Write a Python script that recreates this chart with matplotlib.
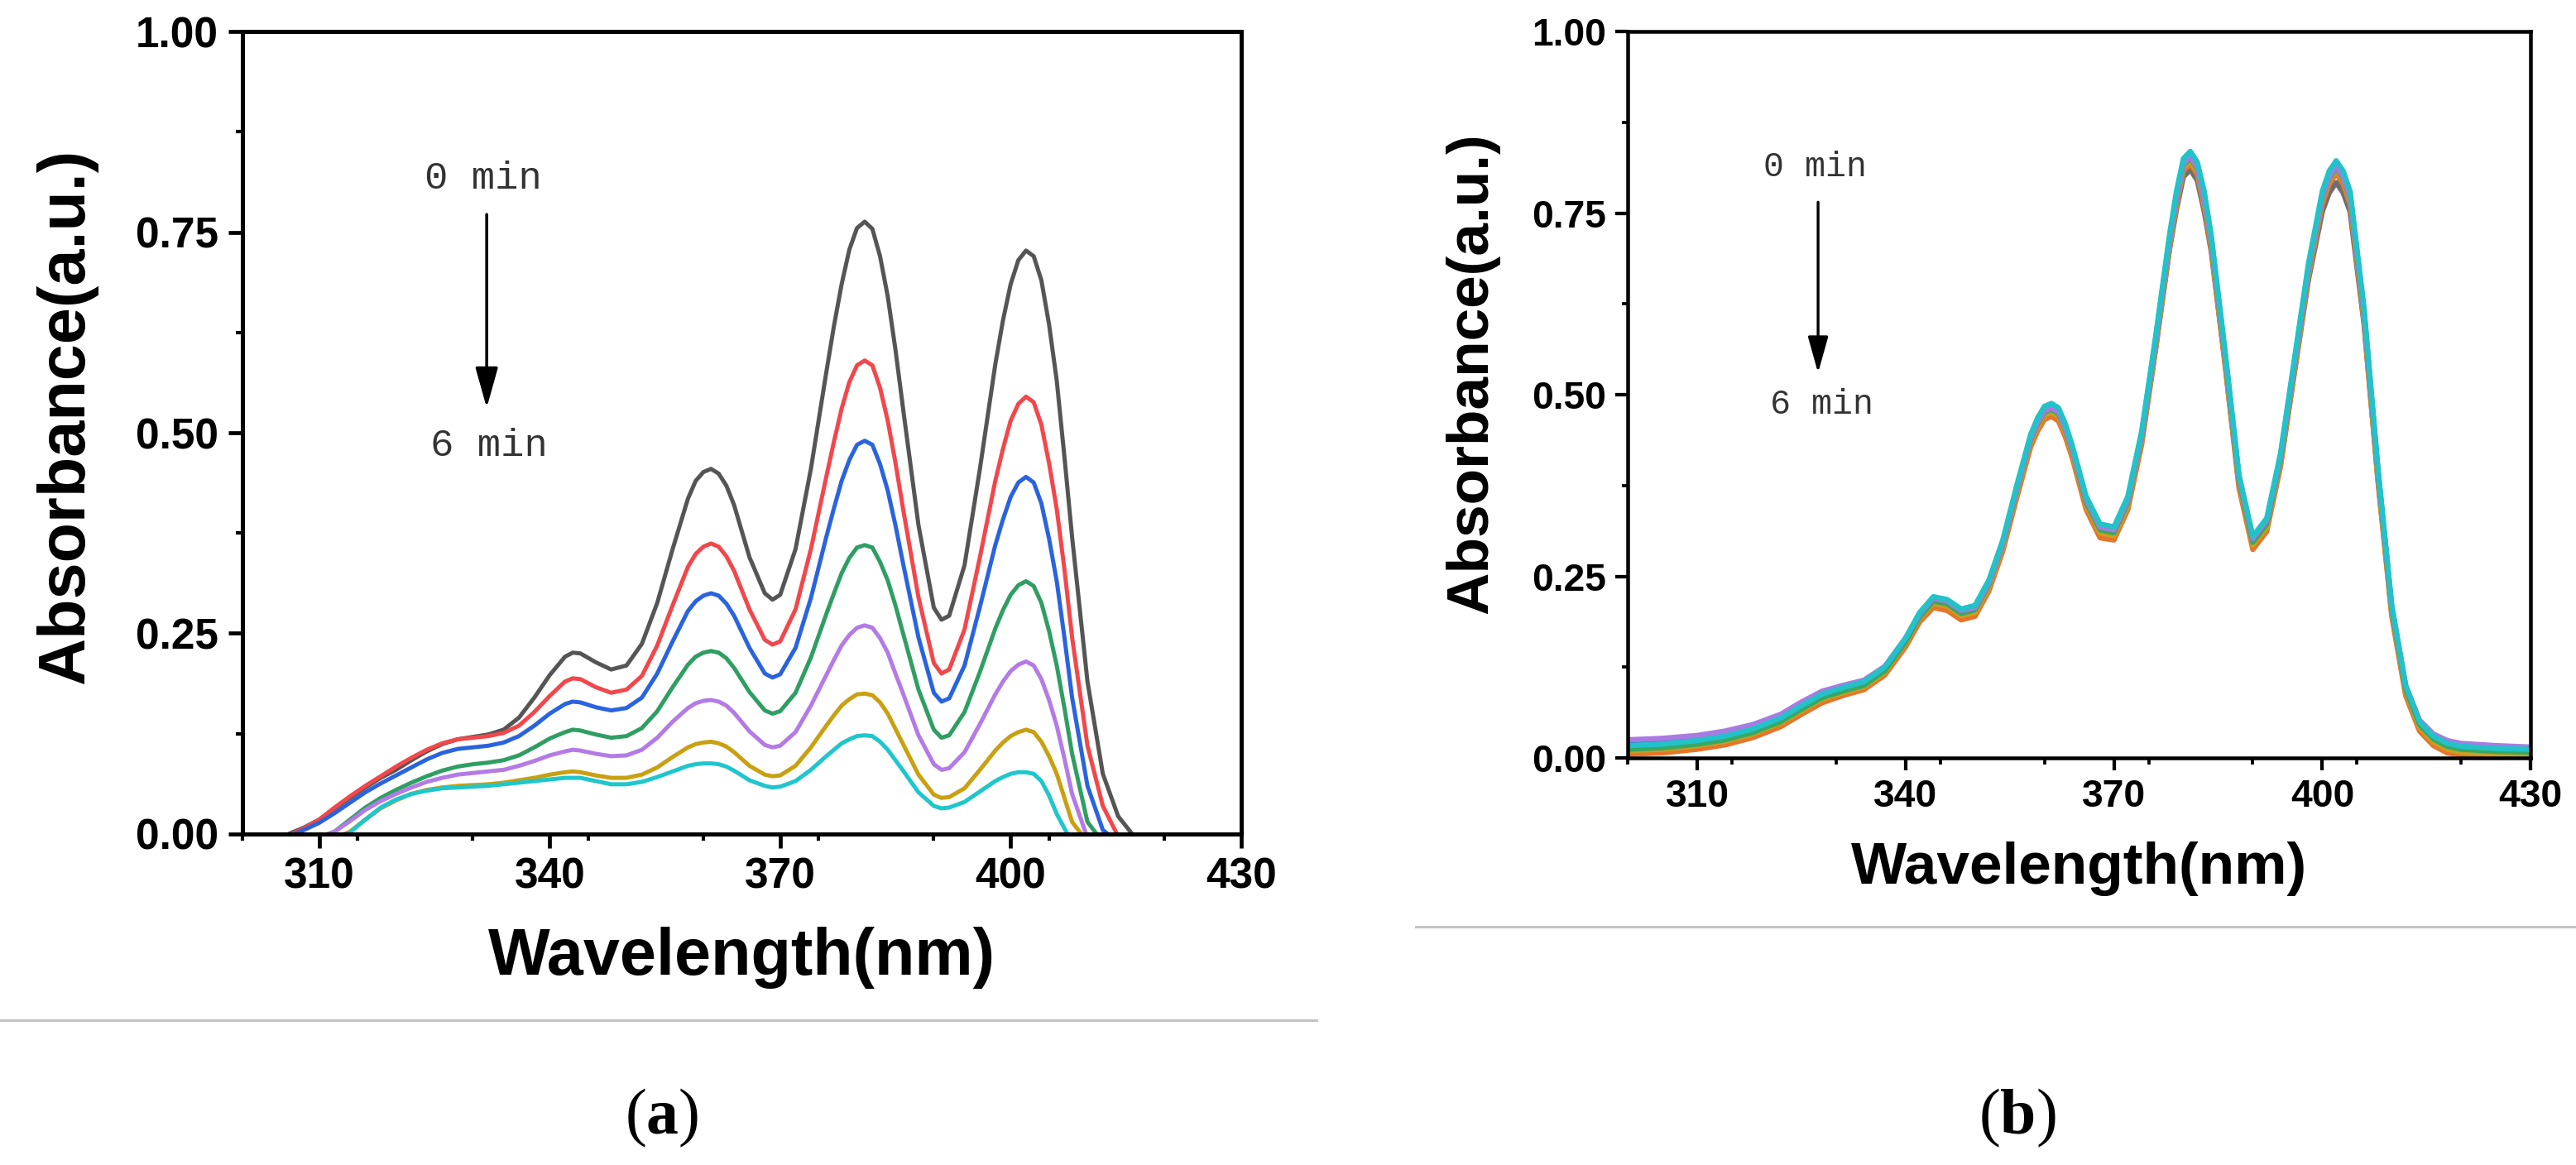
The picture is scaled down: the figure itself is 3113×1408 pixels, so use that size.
import matplotlib
matplotlib.use("Agg")
import matplotlib.pyplot as plt
from matplotlib.lines import Line2D
from matplotlib.ticker import MultipleLocator

plt.rcParams["font.family"] = "Liberation Sans"
plt.rcParams["font.weight"] = "bold"
plt.rcParams["mathtext.fontset"] = "custom"
plt.rcParams["mathtext.bf"] = "Liberation Serif:bold"
plt.rcParams["mathtext.rm"] = "Liberation Serif"

# ---- panel (a): spectra 0..6 min ----
wl_a = [304, 306, 308, 310, 312, 314, 316, 318, 320, 322, 324, 326, 328, 330, 332, 334, 336, 338, 340, 342,
        343, 344, 346, 348, 350, 352, 354, 356, 358, 359,
        360, 361, 362, 363, 364, 366, 368, 369, 370, 372,
        374, 376, 377, 378, 379, 380, 381, 382, 383, 384,
        385, 386, 388, 390, 391, 392, 394, 396, 398, 399,
        400, 401, 402, 403, 404, 405, 406, 407, 408, 410,
        412, 414, 416, 418]

abs_a_0 = [-0.01, 0.0, 0.008, 0.018, 0.032, 0.045, 0.058, 0.07, 0.08, 0.092, 0.103, 0.112, 0.118, 0.121, 0.124, 0.13, 0.145, 0.17, 0.198, 0.221,
           0.226, 0.225, 0.214, 0.205, 0.21, 0.237, 0.288, 0.355, 0.418, 0.44,
           0.451, 0.455, 0.449, 0.434, 0.41, 0.345, 0.3, 0.292, 0.298, 0.355,
           0.455, 0.575, 0.633, 0.685, 0.728, 0.755, 0.763, 0.754, 0.72, 0.67,
           0.604, 0.53, 0.385, 0.282, 0.267, 0.272, 0.335, 0.455, 0.585, 0.64,
           0.685, 0.715, 0.727, 0.72, 0.69, 0.635, 0.565, 0.47, 0.37, 0.19,
           0.075, 0.022, -0.002, -0.01]
abs_a_1 = [-0.01, -0.002, 0.007, 0.018, 0.033, 0.047, 0.06, 0.072, 0.084, 0.095, 0.105, 0.113, 0.118, 0.12, 0.122, 0.126, 0.135, 0.152, 0.172, 0.19,
           0.194, 0.193, 0.183, 0.176, 0.18, 0.197, 0.235, 0.285, 0.333, 0.349,
           0.358, 0.362, 0.358, 0.346, 0.328, 0.28, 0.242, 0.236, 0.24, 0.28,
           0.355, 0.445, 0.489, 0.53, 0.563, 0.584, 0.59, 0.584, 0.556, 0.515,
           0.463, 0.405, 0.295, 0.213, 0.2, 0.205, 0.255, 0.345, 0.44, 0.48,
           0.515, 0.536, 0.545, 0.538, 0.51, 0.462, 0.405, 0.33, 0.245, 0.11,
           0.035, -0.003, -0.01, -0.01]
abs_a_2 = [-0.01, -0.003, 0.005, 0.014, 0.026, 0.039, 0.052, 0.063, 0.073, 0.083, 0.093, 0.101, 0.106, 0.108, 0.11, 0.114, 0.122, 0.135, 0.15, 0.162,
           0.165, 0.164, 0.158, 0.154, 0.157, 0.17, 0.2, 0.24, 0.278, 0.29,
           0.297, 0.3, 0.297, 0.287, 0.272, 0.232, 0.2, 0.195, 0.199, 0.232,
           0.294, 0.37, 0.406, 0.44, 0.466, 0.485, 0.49, 0.485, 0.461, 0.428,
           0.385, 0.337, 0.245, 0.176, 0.165, 0.169, 0.21, 0.283, 0.36, 0.392,
           0.42, 0.438, 0.445, 0.438, 0.412, 0.368, 0.315, 0.245, 0.17, 0.06,
           0.005, -0.01, -0.01, -0.01]
abs_a_3 = [-0.03, -0.02, -0.012, -0.004, 0.003, 0.018, 0.033, 0.045, 0.055, 0.064, 0.072, 0.079, 0.084, 0.087, 0.089, 0.092, 0.098, 0.108, 0.119, 0.127,
           0.13, 0.129, 0.124, 0.12, 0.122, 0.132, 0.153, 0.183, 0.211, 0.221,
           0.226, 0.228, 0.226, 0.219, 0.207, 0.177, 0.154, 0.15, 0.153, 0.176,
           0.22, 0.274, 0.3, 0.325, 0.344, 0.357, 0.36, 0.357, 0.339, 0.316,
           0.285, 0.25, 0.18, 0.13, 0.12, 0.123, 0.152, 0.202, 0.256, 0.279,
           0.298, 0.31, 0.315, 0.309, 0.288, 0.253, 0.21, 0.157, 0.1, 0.015,
           -0.01, -0.01, -0.01, -0.01]
abs_a_4 = [-0.03, -0.02, -0.012, -0.004, 0.003, 0.016, 0.03, 0.041, 0.05, 0.058, 0.065, 0.07, 0.074, 0.076, 0.078, 0.08, 0.085, 0.091, 0.098, 0.103,
           0.105, 0.104, 0.1, 0.097, 0.098, 0.105, 0.12, 0.14, 0.157, 0.163,
           0.166, 0.167, 0.165, 0.16, 0.151, 0.128, 0.111, 0.108, 0.11, 0.127,
           0.16, 0.198, 0.217, 0.235, 0.248, 0.257, 0.26, 0.257, 0.244, 0.226,
           0.2, 0.175, 0.123, 0.087, 0.08, 0.082, 0.102, 0.137, 0.174, 0.19,
           0.203, 0.211, 0.215, 0.21, 0.193, 0.167, 0.135, 0.094, 0.05, -0.005,
           -0.01, -0.01, -0.01, -0.01]
abs_a_5 = [-0.04, -0.03, -0.02, -0.012, -0.005, 0.003, 0.018, 0.032, 0.042, 0.05, 0.055, 0.058, 0.06, 0.061, 0.062, 0.064, 0.067, 0.07, 0.074, 0.077,
           0.078, 0.077, 0.073, 0.07, 0.07, 0.074, 0.083, 0.096, 0.108, 0.112,
           0.114, 0.115, 0.113, 0.109, 0.102, 0.085, 0.074, 0.072, 0.073, 0.085,
           0.108, 0.135, 0.148, 0.16, 0.168, 0.174, 0.175, 0.173, 0.164, 0.15,
           0.131, 0.112, 0.074, 0.049, 0.045, 0.046, 0.057, 0.08, 0.104, 0.114,
           0.122, 0.127, 0.13, 0.127, 0.115, 0.097, 0.075, 0.045, 0.015, -0.01,
           -0.01, -0.01, -0.01, -0.01]
abs_a_6 = [-0.04, -0.03, -0.02, -0.012, -0.005, 0.002, 0.018, 0.033, 0.043, 0.05, 0.054, 0.057, 0.058, 0.059, 0.06, 0.062, 0.064, 0.066, 0.068, 0.07,
           0.07, 0.07, 0.066, 0.062, 0.062, 0.065, 0.071, 0.078, 0.085, 0.087,
           0.088, 0.088, 0.087, 0.084, 0.079, 0.067, 0.06, 0.058, 0.059, 0.066,
           0.08, 0.097, 0.105, 0.113, 0.118, 0.122, 0.123, 0.122, 0.115, 0.105,
           0.092, 0.079, 0.052, 0.035, 0.032, 0.033, 0.04, 0.053, 0.066, 0.071,
           0.075, 0.077, 0.077, 0.075, 0.066, 0.048, 0.025, 0.007, -0.01, -0.01,
           -0.01, -0.01, -0.01, -0.01]

series_a = [abs_a_0, abs_a_1, abs_a_2, abs_a_3, abs_a_4, abs_a_5, abs_a_6]
colors_a = ["#555555", "#f2474b", "#2a63de", "#2f9e63", "#b47ae6", "#c9a010", "#1fc6cc"]

# ---- panel (b): almost no change, 0..6 min ----
wl_b = [300, 305, 310, 314, 318, 322, 325, 328, 331, 334,
        337, 340, 342, 344, 346, 348, 350, 352, 354, 356,
        358, 359, 360, 361, 362, 363, 364, 366, 368, 370,
        372, 374, 376, 378, 379, 380, 381, 382, 383, 384,
        386, 388, 390, 392, 394, 396, 398, 400, 401, 402,
        403, 404, 406, 408, 410, 412, 414, 416, 418, 420,
        425, 430]

abs_b_0 = [0.013, 0.015, 0.02, 0.026, 0.036, 0.051, 0.068, 0.084, 0.093, 0.101,
           0.121, 0.161, 0.195, 0.217, 0.213, 0.2, 0.205, 0.24, 0.294, 0.366,
           0.434, 0.455, 0.47, 0.474, 0.468, 0.447, 0.419, 0.35, 0.313, 0.31,
           0.35, 0.438, 0.564, 0.7, 0.755, 0.8, 0.81, 0.795, 0.752, 0.698,
           0.544, 0.378, 0.296, 0.32, 0.406, 0.532, 0.658, 0.752, 0.778, 0.792,
           0.778, 0.752, 0.598, 0.386, 0.202, 0.095, 0.047, 0.028, 0.019, 0.015,
           0.012, 0.011]
abs_b_1 = [0.005, 0.007, 0.012, 0.018, 0.028, 0.043, 0.06, 0.076, 0.086, 0.094,
           0.114, 0.153, 0.187, 0.207, 0.203, 0.19, 0.195, 0.23, 0.285, 0.358,
           0.428, 0.45, 0.466, 0.47, 0.464, 0.442, 0.413, 0.342, 0.303, 0.3,
           0.342, 0.432, 0.562, 0.702, 0.76, 0.808, 0.818, 0.803, 0.758, 0.702,
           0.541, 0.372, 0.287, 0.312, 0.402, 0.532, 0.662, 0.762, 0.79, 0.805,
           0.79, 0.762, 0.602, 0.382, 0.195, 0.086, 0.037, 0.017, 0.007, 0.004,
           0.002, 0.002]
abs_b_2 = [0.01, 0.012, 0.017, 0.023, 0.033, 0.048, 0.065, 0.081, 0.09, 0.098,
           0.118, 0.158, 0.192, 0.213, 0.209, 0.196, 0.2, 0.235, 0.29, 0.364,
           0.434, 0.456, 0.472, 0.476, 0.47, 0.448, 0.419, 0.348, 0.31, 0.306,
           0.348, 0.438, 0.568, 0.707, 0.765, 0.812, 0.822, 0.807, 0.762, 0.707,
           0.547, 0.378, 0.293, 0.318, 0.408, 0.538, 0.668, 0.768, 0.795, 0.81,
           0.795, 0.768, 0.607, 0.388, 0.2, 0.091, 0.042, 0.022, 0.012, 0.008,
           0.005, 0.005]
abs_b_3 = [0.012, 0.014, 0.019, 0.025, 0.035, 0.05, 0.067, 0.083, 0.092, 0.1,
           0.12, 0.16, 0.194, 0.216, 0.212, 0.199, 0.204, 0.239, 0.294, 0.368,
           0.438, 0.46, 0.476, 0.48, 0.474, 0.452, 0.423, 0.352, 0.314, 0.31,
           0.352, 0.442, 0.572, 0.711, 0.769, 0.816, 0.826, 0.811, 0.766, 0.711,
           0.551, 0.382, 0.297, 0.322, 0.412, 0.542, 0.672, 0.771, 0.798, 0.813,
           0.798, 0.771, 0.611, 0.392, 0.204, 0.095, 0.046, 0.026, 0.016, 0.012,
           0.009, 0.008]
abs_b_4 = [0.02, 0.022, 0.027, 0.033, 0.043, 0.057, 0.074, 0.09, 0.099, 0.106,
           0.125, 0.164, 0.198, 0.221, 0.217, 0.204, 0.208, 0.243, 0.298, 0.372,
           0.442, 0.464, 0.48, 0.484, 0.478, 0.456, 0.427, 0.357, 0.319, 0.315,
           0.357, 0.447, 0.576, 0.716, 0.773, 0.82, 0.83, 0.815, 0.77, 0.716,
           0.557, 0.387, 0.302, 0.327, 0.417, 0.546, 0.676, 0.776, 0.803, 0.818,
           0.803, 0.776, 0.616, 0.397, 0.208, 0.099, 0.05, 0.031, 0.022, 0.018,
           0.015, 0.014]
abs_b_5 = [0.025, 0.027, 0.031, 0.037, 0.046, 0.06, 0.077, 0.092, 0.1, 0.107,
           0.126, 0.165, 0.198, 0.22, 0.216, 0.203, 0.207, 0.241, 0.296, 0.37,
           0.44, 0.462, 0.478, 0.482, 0.476, 0.454, 0.425, 0.356, 0.318, 0.314,
           0.355, 0.445, 0.574, 0.713, 0.771, 0.818, 0.828, 0.813, 0.768, 0.714,
           0.555, 0.386, 0.302, 0.327, 0.416, 0.545, 0.674, 0.773, 0.8, 0.815,
           0.8, 0.773, 0.614, 0.396, 0.208, 0.1, 0.052, 0.033, 0.024, 0.02,
           0.017, 0.015]
abs_b_6 = [0.017, 0.019, 0.024, 0.03, 0.04, 0.055, 0.072, 0.088, 0.097, 0.105,
           0.125, 0.165, 0.2, 0.222, 0.218, 0.205, 0.21, 0.245, 0.3, 0.375,
           0.445, 0.468, 0.484, 0.488, 0.482, 0.46, 0.43, 0.36, 0.322, 0.318,
           0.36, 0.45, 0.58, 0.72, 0.78, 0.825, 0.835, 0.82, 0.78, 0.72,
           0.56, 0.39, 0.305, 0.33, 0.42, 0.55, 0.68, 0.78, 0.808, 0.822,
           0.808, 0.78, 0.62, 0.4, 0.21, 0.1, 0.05, 0.03, 0.02, 0.016,
           0.013, 0.012]

series_b = [abs_b_0, abs_b_1, abs_b_2, abs_b_3, abs_b_4, abs_b_5, abs_b_6]
colors_b = ["#6e6e6e", "#e8742a", "#c9a020", "#3aa860", "#3a78d8", "#a97be2", "#22c2c9"]

x_ticks = [310, 340, 370, 400, 430]
y_ticks = [0.0, 0.25, 0.5, 0.75, 1.0]


def style_axes(ax, k):
    """k : facteur d'échelle du panneau"""
    ax.set_xlim(300, 430)
    ax.set_ylim(0, 1)
    ax.set_xticks(x_ticks)
    ax.set_yticks(y_ticks)
    ax.xaxis.set_minor_locator(MultipleLocator(15))
    ax.yaxis.set_minor_locator(MultipleLocator(0.125))
    ax.set_yticklabels(["%.2f" % v for v in y_ticks])
    for s in ax.spines.values():
        s.set_linewidth(3.6 * k)
    ax.tick_params(which="major", direction="out", length=12 * k, width=3.4 * k,
                   labelsize=37 * k, top=False, right=False)
    ax.tick_params(which="minor", direction="out", length=6 * k, width=3 * k,
                   top=False, right=False)
    ax.tick_params(axis="x", which="major", pad=8 * k)
    ax.tick_params(axis="y", which="major", pad=9 * k)
    ax.set_xlabel("Wavelength(nm)", fontsize=57 * k, fontweight="bold")
    ax.set_ylabel("Absorbance(a.u.)", fontsize=57 * k, fontweight="bold")


fig = plt.figure(figsize=(31.13, 14.08), dpi=100)

ax1 = fig.add_axes([0.0941, 0.2841, 0.3877, 0.6889])
for y, c in zip(series_a, colors_a):
    ax1.plot(wl_a, y, color=c, lw=3.6, solid_joinstyle="round")
style_axes(ax1, 1.0)
ax1.xaxis.set_label_coords(0.5, -0.115)
ax1.yaxis.set_label_coords(-0.145, 0.52)
ax1.annotate("", xy=(331.8, 0.531), xytext=(331.8, 0.772),
             arrowprops=dict(arrowstyle="-|>,head_length=1.5,head_width=0.42",
                             mutation_scale=20, lw=2.6, color="black",
                             shrinkA=0, shrinkB=0))
ax1.text(331.3, 0.816, "0 min", ha="center", va="center", fontsize=34,
         family="Liberation Mono", fontweight="normal", color="#333333")
ax1.text(332.1, 0.484, "6 min", ha="center", va="center", fontsize=34,
         family="Liberation Mono", fontweight="normal", color="#333333")

ax2 = fig.add_axes([0.6319, 0.3494, 0.3505, 0.6236])
for y, c in zip(series_b, colors_b):
    ax2.plot(wl_b, y, color=c, lw=4.6, solid_joinstyle="round")
style_axes(ax2, 0.9)
ax2.xaxis.set_label_coords(0.5, -0.115)
ax2.yaxis.set_label_coords(-0.142, 0.53)
ax2.annotate("", xy=(327.4, 0.530), xytext=(327.4, 0.765),
             arrowprops=dict(arrowstyle="-|>,head_length=1.5,head_width=0.42",
                             mutation_scale=18, lw=2.4, color="black",
                             shrinkA=0, shrinkB=0))
ax2.text(327.0, 0.813, "0 min", ha="center", va="center", fontsize=30,
         family="Liberation Mono", fontweight="normal", color="#333333")
ax2.text(327.9, 0.486, "6 min", ha="center", va="center", fontsize=30,
         family="Liberation Mono", fontweight="normal", color="#333333")

# traits gris de séparation et légendes (a), (b)
fig.add_artist(Line2D([0.0, 0.511], [0.1245, 0.1245], transform=fig.transFigure,
                      color="#c4c4c4", lw=2.2))
fig.add_artist(Line2D([0.5496, 1.0], [0.2045, 0.2045], transform=fig.transFigure,
                      color="#c4c4c4", lw=2.2))
fig.text(0.2568, 0.04, r"($\mathbf{a}$)", ha="center", va="center", fontsize=56,
         family="Liberation Serif", fontweight="normal")
fig.text(0.7832, 0.04, r"($\mathbf{b}$)", ha="center", va="center", fontsize=56,
         family="Liberation Serif", fontweight="normal")

fig.savefig("out.png", dpi=100, facecolor="white")
